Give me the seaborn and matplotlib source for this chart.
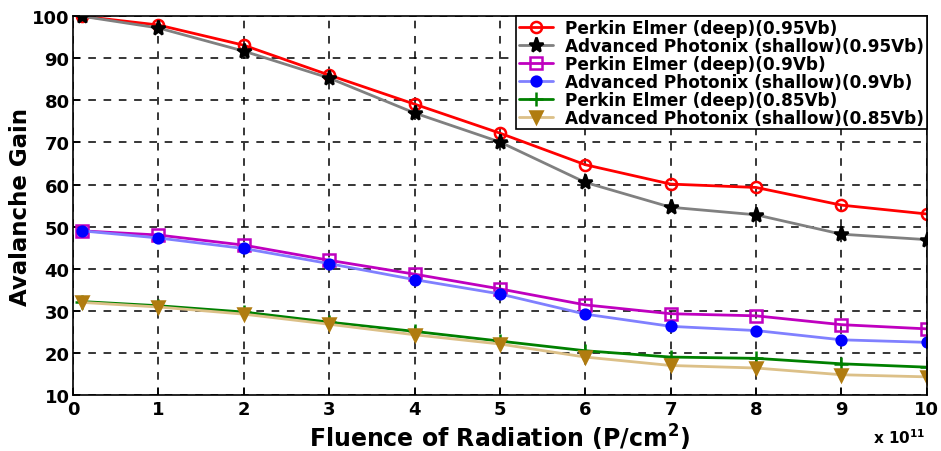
import matplotlib
matplotlib.use('Agg')
import matplotlib.pyplot as plt
import pandas as pd
import seaborn as sns

# fluence in units of 1e11 P/cm^2
fluence = [0.1, 1, 2, 3, 4, 5, 6, 7, 8, 9, 10]

pe_095 = [100, 97.9, 93.1, 86.0, 79.1, 72.2, 64.7, 60.1, 59.3, 55.1, 53.0]
ap_095 = [100, 97.2, 91.7, 85.3, 77.0, 70.1, 60.5, 54.6, 52.8, 48.2, 46.9]
pe_090 = [49.0, 48.0, 45.6, 42.0, 38.7, 35.2, 31.4, 29.3, 28.8, 26.7, 25.7]
ap_090 = [49.0, 47.3, 44.8, 41.2, 37.4, 34.0, 29.2, 26.3, 25.3, 23.1, 22.5]
pe_085 = [32.2, 31.2, 29.7, 27.3, 25.1, 22.8, 20.5, 19.0, 18.7, 17.4, 16.6]
ap_085 = [32.0, 30.9, 29.2, 26.8, 24.3, 22.1, 19.0, 17.0, 16.4, 14.8, 14.3]

labels = ['Perkin Elmer (deep)(0.95Vb)',
          'Advanced Photonix (shallow)(0.95Vb)',
          'Perkin Elmer (deep)(0.9Vb)',
          'Advanced Photonix (shallow)(0.9Vb)',
          'Perkin Elmer (deep)(0.85Vb)',
          'Advanced Photonix (shallow)(0.85Vb)']

sns.set_style('ticks')
plt.rcParams['font.family'] = ['DejaVu Sans']
plt.rcParams['font.weight'] = 'bold'
plt.rcParams['mathtext.default'] = 'bf'
for key in ['text.color', 'axes.labelcolor', 'xtick.color', 'ytick.color']:
    plt.rcParams[key] = 'black'

fig = plt.figure(figsize=(9.41, 4.52), dpi=100)
ax = fig.add_axes([0.0776, 0.124, 0.9074, 0.838])

# (line colour, marker, marker face, marker edge, marker size)
styles = [
    ('#ff0000', 'o', 'none', '#ff0000', 8),
    ('#808080', '*', 'black', 'black', 11),
    ('#bf00bf', 's', 'none', '#bf00bf', 8),
    ('#8080ff', 'o', '#0000ff', '#0000ff', 7),
    ('#008000', '+', '#008000', '#008000', 10),
    ('#dcc088', 'v', '#b07c10', '#b07c10', 8),
]

series = [pe_095, ap_095, pe_090, ap_090, pe_085, ap_085]
for vals, lab, (lc, mk, mf, me, ms) in zip(series, labels, styles):
    df = pd.DataFrame({'fluence': fluence, 'gain': vals})
    sns.lineplot(data=df, x='fluence', y='gain', ax=ax, label=lab, color=lc,
                 linewidth=2.0, marker=mk, markersize=ms, markerfacecolor=mf,
                 markeredgecolor=me, markeredgewidth=1.8)

ax.set_xlim(0, 10)
ax.set_ylim(10, 100)
ax.set_xticks(range(0, 11))
ax.set_yticks(range(10, 101, 10))
ax.grid(True, color='black', linestyle=(0, (5, 5)), linewidth=1.1)
ax.tick_params(direction='in', labelsize=13, length=5, width=1.2)
ax.tick_params(axis='y', pad=2.5)
for lab in ax.get_xticklabels() + ax.get_yticklabels():
    lab.set_fontweight('bold')
for sp in ax.spines.values():
    sp.set_visible(True)
    sp.set_linewidth(1.2)
    sp.set_color('black')

ax.set_xlabel('Fluence of Radiation (P/cm$^2$)', fontsize=17,
              fontweight='bold', labelpad=3)
ax.set_ylabel('Avalanche Gain', fontsize=16.5, fontweight='bold', labelpad=0)
ax.text(0.998, -0.128, 'x 10$^{11}$', transform=ax.transAxes,
        ha='right', va='baseline', fontsize=11, fontweight='bold')

leg = ax.legend(loc='upper right', prop={'size': 12.2, 'weight': 'bold'},
                frameon=True, fancybox=False, edgecolor='black',
                borderpad=0.15, labelspacing=0.0, handlelength=2.0,
                handletextpad=0.75, borderaxespad=0.0)
leg.get_frame().set_linewidth(1.2)
leg.get_frame().set_alpha(1)

fig.savefig('out.png', dpi=100)
